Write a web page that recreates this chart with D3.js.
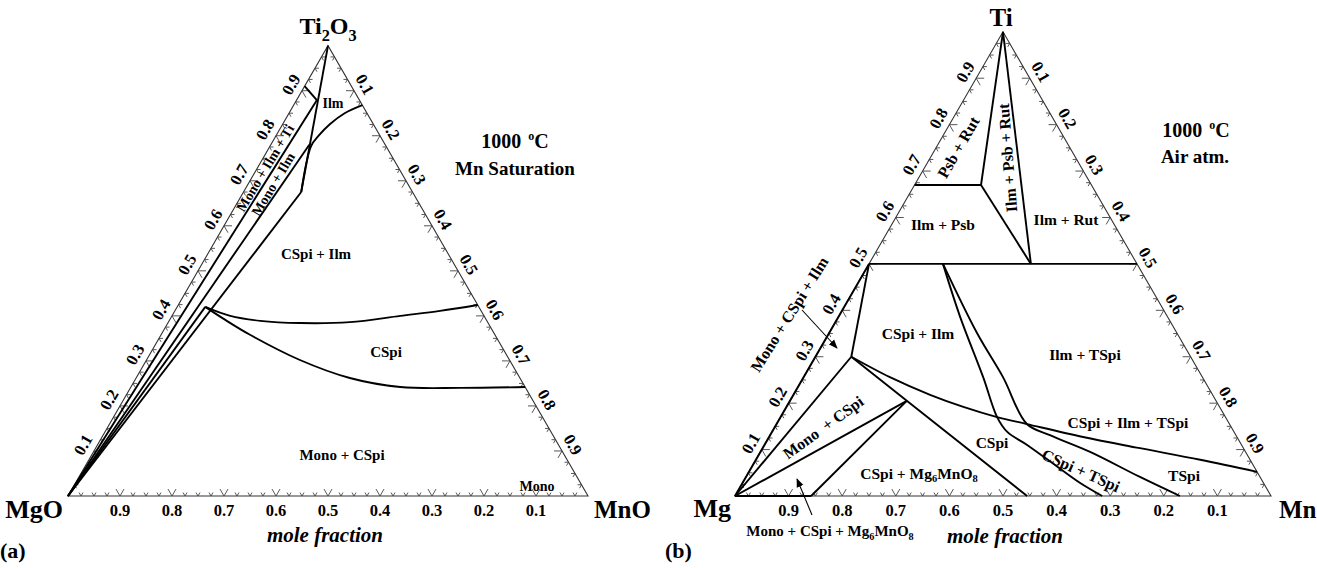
<!DOCTYPE html>
<html><head><meta charset="utf-8">
<script src="https://cdn.jsdelivr.net/npm/d3@7/dist/d3.min.js"></script>
<style>
body{margin:0;background:#fff}
svg{display:block}
text{font-family:"Liberation Serif","Times New Roman",serif;font-weight:bold;fill:#000;white-space:pre}
</style>
</head><body><svg id="c" width="1317" height="568"></svg>
<script>
// ================= DATA =================
// tick values along each side (fraction of the component that the side reads)
const tickValues = [0.1,0.2,0.3,0.4,0.5,0.6,0.7,0.8,0.9];
const tickLabels = ["0.1","0.2","0.3","0.4","0.5","0.6","0.7","0.8","0.9"];
const minorTickStep = 0.025;

// ---- Diagram (a): MgO - MnO - Ti2O3, points as [MnO fraction, Ti2O3 fraction]
const aApexLine      = [[0,1],[0.111,0.675]];
const aIlmBoundary   = [[0.111,0.675],[0.079,0.777],[0.082,0.800],[0.091,0.826],[0.107,0.850],[0.132,0.868]];
const aMonoIlmTiLine = [[0,0],[0.039,0.879]];
const aMonoIlmTiTop  = [[0,0.91],[0.039,0.879]];
const aMonoIlmLine   = [[0,0],[0.074,0.780]];
const aIlmSpinelLine = [[0,0],[0.111,0.675]];
const aMonoSpiLine   = [[0,0],[0.054,0.420]];
const aSpinelUpper   = [[0.054,0.420],[0.112,0.400],[0.175,0.389],[0.254,0.384],[0.349,0.386],[0.439,0.400],[0.510,0.411],[0.576,0.424]];
const aSpinelLower   = [[0.054,0.420],[0.107,0.391],[0.171,0.358],[0.295,0.302],[0.411,0.262],[0.518,0.242],[0.634,0.240],[0.758,0.242]];

// ---- Diagram (b): Mg - Mn - Ti, points as [Mn fraction, Ti fraction]
const bTi50Line      = [[0,0.5],[0.5,0.5]];
const bPsbTie        = [[0,0.67],[0.124,0.67]];
const bRutPsb        = [[0,1],[0.124,0.67]];
const bPsbIlm        = [[0.124,0.67],[0.302,0.5]];
const bRutIlm        = [[0,1],[0.302,0.5]];
const bLeftEdge      = [[0,0],[0,0.5]];
const bBottomEdge    = [[0,0],[0.142,0]];
const bMonoCSpiIlm   = [[0,0.5],[0.067,0.30]];
const bMonoCSpiTie   = [[0,0],[0.067,0.30]];
const bCSpiLimit     = [[0.067,0.30],[0.218,0.205],[0.545,0]];
const bMonoMg6Tie    = [[0,0],[0.218,0.205]];
const bMg6Tie        = [[0.218,0.205],[0.142,0]];
const bIlmBoundary   = [[0.067,0.30],[0.161,0.256],[0.255,0.218],[0.330,0.192],[0.404,0.170],[0.467,0.155],[0.586,0.127],[0.704,0.103],[0.829,0.078],[0.948,0.052]];
const bCSpiTSpi1     = [[0.138,0.5],[0.227,0.386],[0.335,0.256],[0.404,0.170],[0.439,0.138],[0.490,0.110],[0.570,0.063],[0.630,0.028],[0.685,0]];
const bCSpiTSpi2     = [[0.138,0.5],[0.276,0.351],[0.372,0.256],[0.467,0.155],[0.522,0.131],[0.615,0.095],[0.735,0.041],[0.830,0]];

// ================= LAYOUT =================
const svg = d3.select("#c");
const defs = svg.append("defs");
defs.append("marker").attr("id","arr").attr("viewBox","0 0 10 10")
  .attr("refX",9).attr("refY",5).attr("markerWidth",9).attr("markerHeight",9)
  .attr("markerUnits","userSpaceOnUse").attr("orient","auto")
  .append("path").attr("d","M0,1 L10,5 L0,9 Z").attr("fill","#000");

function richText(g, x, y, parts, size, opts={}) {
  const t = g.append("text").attr("x",x).attr("y",y).attr("font-size",size)
    .attr("text-anchor", opts.anchor || "middle");
  if (opts.central) t.attr("dominant-baseline","central");
  if (opts.rotate) t.attr("transform",`rotate(${opts.rotate},${x},${y})`);
  if (opts.italic) t.attr("font-style","italic");
  let shift = 0;
  (typeof parts === "string" ? [[parts,""]] : parts).forEach(([s,kind]) => {
    const target = kind==="sub" ? size*0.3 : kind==="sup" ? -size*0.42 : 0;
    const sp = t.append("tspan").attr("dy", target-shift)
      .attr("font-size", kind==="sub" ? size*0.68 : kind==="sup" ? size*0.6 : size).text(s);
    if (kind==="sup") sp.attr("dx", 2);
    shift = target;
  });
  return t;
}

function diagram(cfg) {
  const g = svg.append("g");
  const h = cfg.side*Math.sqrt(3)/2;
  const xs = d3.scaleLinear().domain([0,1]).range([cfg.x0, cfg.x0+cfg.side]);
  const ys = d3.scaleLinear().domain([0,1]).range([cfg.y0, cfg.y0-h]);
  const px = p => xs(p[0]+p[1]/2), py = p => ys(p[1]);
  const line = d3.line().x(px).y(py);
  const smooth = d3.line().x(px).y(py).curve(d3.curveCatmullRom.alpha(0.5));

  // outline
  g.append("path").attr("d", line([[0,0],[1,0],[0,1]]) + "Z")
    .attr("fill","none").attr("stroke","#333").attr("stroke-width",1.1);

  // ticks
  const s3 = Math.sqrt(3)/2;
  const sides = [
    {pt:t=>[t,0],   arms:[[0.5,-s3],[-0.5,-s3]]},
    {pt:t=>[0,t],   arms:[[1,0],[0.5,s3]]},
    {pt:t=>[t,1-t], arms:[[-1,0],[-0.5,s3]]}
  ];
  const nT = Math.round(1/minorTickStep);
  const ts = d3.range(1,nT).map(k=>k*minorTickStep);
  let td = "";
  sides.forEach(sd => ts.forEach(t => {
    const major = Math.abs(t*10-Math.round(t*10))<1e-6;
    const len = major ? 8 : 4;
    const p = sd.pt(t), x = px(p), y = py(p);
    sd.arms.forEach(a => { td += `M${x},${y}L${x+a[0]*len},${y+a[1]*len}`; });
  }));
  g.append("path").attr("d",td).attr("fill","none").attr("stroke","#444").attr("stroke-width",0.9);

  // tick labels
  const off = 13;
  tickValues.forEach((v,i) => {
    let p = [1-v,0];
    richText(g, px(p), py(p)+20, tickLabels[i], 16.5);
    p = [0,v];
    richText(g, px(p)-off*s3, py(p)-off*0.5, tickLabels[i], 16.5, {central:true, rotate:-60});
    p = [v,1-v];
    richText(g, px(p)+off*s3, py(p)-off*0.5, tickLabels[i], 16.5, {central:true, rotate:60});
  });

  // phase boundaries
  cfg.lines.forEach(l => g.append("path").attr("d", line(l)).attr("fill","none")
    .attr("stroke","#000").attr("stroke-width",1.9).attr("stroke-linejoin","round"));
  cfg.curves.forEach(l => g.append("path").attr("d", smooth(l)).attr("fill","none")
    .attr("stroke","#000").attr("stroke-width",1.9).attr("stroke-linejoin","round"));
  return g;
}

const gA = diagram({x0:68, y0:496, side:520,
  lines:[aApexLine, aMonoIlmTiLine, aMonoIlmTiTop, aMonoIlmLine, aIlmSpinelLine, aMonoSpiLine],
  curves:[aIlmBoundary, aSpinelUpper, aSpinelLower]});
const gB = diagram({x0:735, y0:496, side:536,
  lines:[bTi50Line, bPsbTie, bRutPsb, bPsbIlm, bRutIlm, bLeftEdge, bBottomEdge, bMonoCSpiIlm,
         bMonoCSpiTie, bCSpiLimit, bMonoMg6Tie, bMg6Tie],
  curves:[bIlmBoundary, bCSpiTSpi1, bCSpiTSpi2]});

// ----- text: diagram (a)
richText(gA, 328, 34, [["Ti",""],["2","sub"],["O",""],["3","sub"]], 24);
richText(gA, 63, 518, "MgO", 26, {anchor:"end"});
richText(gA, 594, 518, "MnO", 25, {anchor:"start"});
richText(gA, 0, 558, "(a)", 22, {anchor:"start"});
richText(gA, 325, 542, "mole fraction", 21, {italic:true});
richText(gA, 515, 148, [["1000 ",""],["o","sup"],["C",""]], 20);
richText(gA, 515, 175, "Mn Saturation", 19);
richText(gA, 333, 103, "Ilm", 14, {central:true});
richText(gA, 265, 168, "Mono + Ilm + Ti", 14, {central:true, rotate:-59});
richText(gA, 273, 184, "Mono + Ilm", 14, {central:true, rotate:-59});
richText(gA, 316, 254, "CSpi + Ilm", 15, {central:true});
richText(gA, 386, 352, "CSpi", 15, {central:true});
richText(gA, 342, 455, "Mono + CSpi", 15, {central:true});
richText(gA, 537, 486, "Mono", 14, {central:true});

// ----- text: diagram (b)
richText(gB, 1001, 26, "Ti", 25);
richText(gB, 731, 517, "Mg", 26, {anchor:"end"});
richText(gB, 1279, 518, "Mn", 25, {anchor:"start"});
richText(gB, 665, 558, "(b)", 22, {anchor:"start"});
richText(gB, 1005, 543, "mole fraction", 21, {italic:true});
richText(gB, 1196, 137, [["1000 ",""],["o","sup"],["C",""]], 20);
richText(gB, 1195, 163, "Air atm.", 19);
richText(gB, 958, 147, "Psb + Rut", 16, {central:true, rotate:-60});
richText(gB, 1007, 158, "Ilm + Psb + Rut", 16, {central:true, rotate:-94.5});
richText(gB, 943, 224, "Ilm + Psb", 15.5, {central:true});
richText(gB, 1066, 219, "Ilm + Rut", 15.5, {central:true});
richText(gB, 918, 333, "CSpi + Ilm", 15.5, {central:true});
richText(gB, 1085, 354, "Ilm + TSpi", 15.5, {central:true});
richText(gB, 789, 314, "Mono + CSpi + Ilm", 16, {central:true, rotate:-58});
richText(gB, 823, 427, "Mono  + CSpi", 16, {central:true, rotate:-36});
richText(gB, 919, 473, [["CSpi + Mg",""],["6","sub"],["MnO",""],["8","sub"]], 15.5, {central:true});
richText(gB, 992, 442, "CSpi", 15.5, {central:true});
richText(gB, 1081, 470, "CSpi + TSpi", 16, {central:true, rotate:24});
richText(gB, 1184, 475, "TSpi", 15.5, {central:true});
richText(gB, 1128, 422, "CSpi + Ilm + TSpi", 15.5, {central:true});
richText(gB, 830, 531, [["Mono + CSpi + Mg",""],["6","sub"],["MnO",""],["8","sub"]], 15, {central:true});

// annotation arrows (pixel positions)
const arrows = [[[812,515],[797,479]], [[802,310],[837,348]]];
arrows.forEach(a => gB.append("line").attr("x1",a[0][0]).attr("y1",a[0][1]).attr("x2",a[1][0]).attr("y2",a[1][1])
  .attr("stroke","#000").attr("stroke-width",1.1).attr("marker-end","url(#arr)"));
</script>
</body></html>
